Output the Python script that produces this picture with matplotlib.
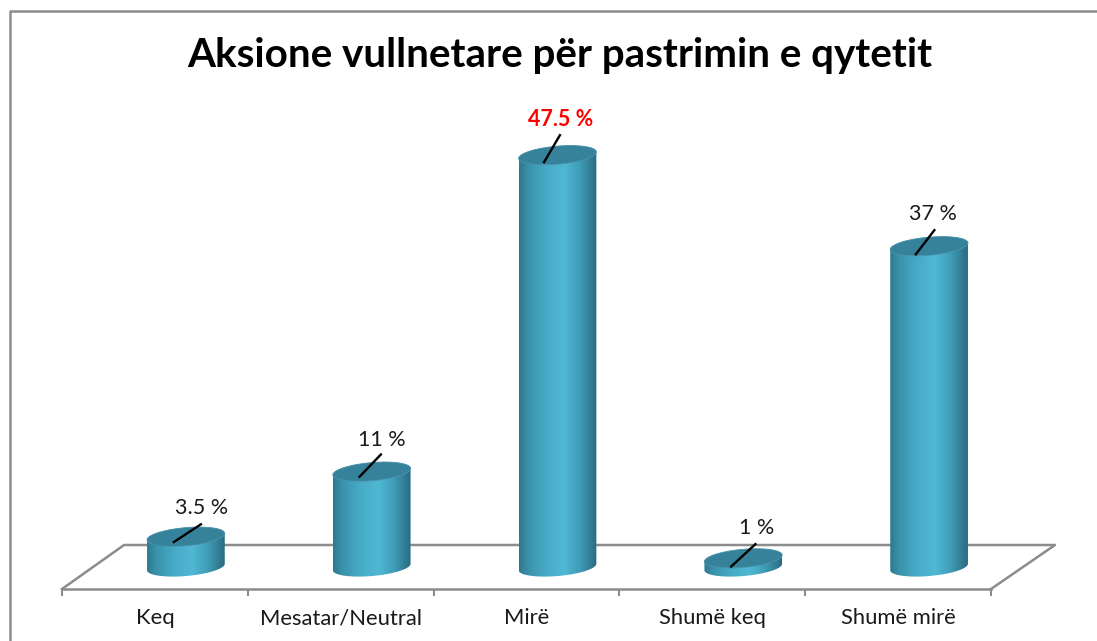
import numpy as np
import matplotlib.pyplot as plt
from matplotlib.colors import LinearSegmentedColormap
from matplotlib.lines import Line2D
from matplotlib.patches import Polygon

# Data
categories = ["Keq", "Mesatar/Neutral", "Mirë", "Shumë keq", "Shumë mirë"]
values = [3.5, 11, 47.5, 1, 37]
labels = ["3.5 %", "11 %", "47.5 %", "1 %", "37 %"]
title = "Aksione vullnetare për pastrimin e qytetit"

# Leader and label offsets from the top of each bar, in pixels
lead_start = [(-13, 6), (-13, 6), (-14, 8), (-13, 9), (-14, 9)]
lead_end = [(16, -13), (10, -18), (3, -21), (13, -15), (6, -17)]
label_pos = [(16, -29), (10, -32), (3, -36), (13, -30), (4, -32)]

W, H = 1097, 641
PX_X = 185.8  # pixels per category
PX_Y = 8.67  # pixels per percent
DEPTH_X, DEPTH_Y = 31, 22  # bar base centre relative to front floor line
FLOOR_X, FLOOR_Y = 64, 44
GREY = "#8c8c8c"

plt.rcParams["font.family"] = ["Lato", "DejaVu Sans"]
fig = plt.figure(figsize=(W / 100, H / 100), dpi=100, facecolor="white")
ax = fig.add_axes([62 / W, (H - 589) / H, 929 / W, 589 / H])
ax.set_xlim(-0.5, 4.5)
y0 = -DEPTH_Y / PX_Y
ax.set_ylim(y0, y0 + 589 / PX_Y)
ax.patch.set_visible(False)
for s in ["top", "left", "right"]:
    ax.spines[s].set_visible(False)
ax.spines["bottom"].set_color(GREY)
ax.spines["bottom"].set_linewidth(1.8)
ax.set_yticks([])
ax.set_xticks(range(len(categories)), categories, fontsize=15.8, color="#1a1a1a")
ax.set_xticks(np.arange(-0.5, 5), minor=True)
ax.tick_params(axis="x", which="major", length=0, pad=14)
ax.tick_params(axis="x", which="minor", length=5, width=1.5, color=GREY)


def px(x, y, dx, dy):
    # x, y in data, dx, dy in screen pixels (y down)
    return x + np.asarray(dx) / PX_X, y - np.asarray(dy) / PX_Y


# Floor
fx = [-0.5, -0.5 + FLOOR_X * 0.97 / PX_X, 4.5 + FLOOR_X / PX_X, 4.5]
fy = [y0, y0 + FLOOR_Y / PX_Y, y0 + FLOOR_Y / PX_Y, y0]
ax.add_line(Line2D(fx, fy, color=GREY, lw=1.8, clip_on=False, zorder=1))

# Cylinders
cmap = LinearSegmentedColormap.from_list(
    "cyl",
    [(0, "#2d7990"), (0.12, "#3a92ab"), (0.35, "#47abc7"), (0.58, "#50b8d4"),
     (0.78, "#3f9db7"), (1, "#2a6b80")],
)
a, b, tilt = 39, 9.0, np.radians(5)
t = np.linspace(0, 2 * np.pi, 121)
ex = a * np.cos(t) * np.cos(tilt) + b * np.sin(t) * np.sin(tilt)
ey = -a * np.cos(t) * np.sin(tilt) + b * np.sin(t) * np.cos(tilt)
lower = t <= t[np.argmin(ex)]  # screen-lower half, from right edge to left edge

grad = np.linspace(0, 1, 256).reshape(1, -1)
for i, v in enumerate(values):
    cx = i + DEPTH_X / PX_X
    # side of the cylinder
    tx, ty = px(cx, v, ex[lower], ey[lower])
    bx, by = px(cx, 0, ex[lower], ey[lower])
    body = Polygon(
        np.column_stack([np.r_[bx, tx[::-1]], np.r_[by, ty[::-1]]]),
        closed=True, fc="none", ec="none", transform=ax.transData,
    )
    ax.add_patch(body)
    im = ax.imshow(
        grad, cmap=cmap, aspect="auto", zorder=2,
        extent=[cx - a / PX_X, cx + a / PX_X, -10 / PX_Y * 2, v + 12 / PX_Y],
    )
    im.set_clip_path(body)
    # top face
    topx, topy = px(cx, v, ex, ey)
    ax.add_patch(Polygon(np.column_stack([topx, topy]), closed=True,
                         fc="#37829b", ec="#3f8ea8", lw=0.6, zorder=3))
    # leader
    x1, y1 = px(cx, v, lead_start[i][0], lead_start[i][1])
    x2, y2 = px(cx, v, lead_end[i][0], lead_end[i][1])
    ax.plot([x1, x2], [y1, y2], color="black", lw=1.7, zorder=4,
            solid_capstyle="butt", clip_on=False)
    # value label
    lx, ly = px(cx, v, label_pos[i][0], label_pos[i][1])
    hi = v == max(values)
    ax.text(lx, ly, labels[i], ha="center", va="center", fontsize=15.5,
            color="#ff0000" if hi else "#1a1a1a",
            fontweight="bold" if hi else "normal", zorder=5)

ax.set_xlim(-0.5, 4.5)
ax.set_ylim(y0, y0 + 589 / PX_Y)

# Chart frame, open at right and bottom as in the cropped picture
fig.add_artist(Line2D([9.5 / W, 9.5 / W, 1], [0, 1 - 10.5 / H, 1 - 10.5 / H],
                      color=GREY, lw=1.8, transform=fig.transFigure))

fig.text(560 / W, 1 - 55 / H, title, ha="center", va="center",
         fontsize=29.1, fontweight="bold", color="black")

fig.savefig("out.png", dpi=100, facecolor="white")
